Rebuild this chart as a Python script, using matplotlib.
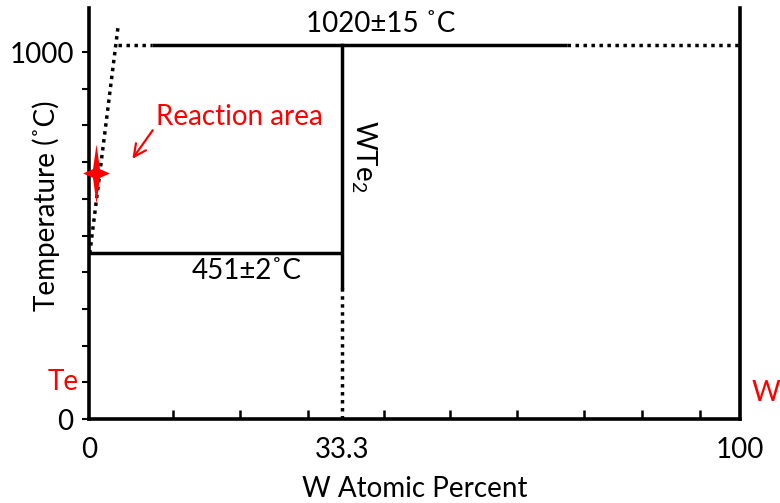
import numpy as np
import matplotlib.pyplot as plt
from matplotlib.path import Path

plt.rcParams['font.family'] = ['Lato', 'DejaVu Sans']
plt.rcParams['mathtext.fontset'] = 'custom'
plt.rcParams['mathtext.rm'] = 'Lato'
plt.rcParams['mathtext.it'] = 'Lato:italic'

# W-Te phase diagram (schematic), composition in W at.% and temperature in °C
x_wte2 = 33.3
t_eutectic = 451
t_peritectic = 1020
liquidus_x = [0.1, 3.8]
liquidus_t = [451, 1065]
upper_dotted_left = [3.8, 8.3]
upper_solid = [8.3, 71.0]
upper_dotted_right = [71.0, 100]
wte2_solid_t = [360, 1020]
wte2_dotted_t = [0, 360]
reaction_x, reaction_t = 0.9, 670
arrow_tip = (5.5, 703)
arrow_tail = (8.6, 793)
label_reaction = (8.8, 801)

x_ticks = [0, 33.3, 100]
x_ticklabels = ['0', '33.3', '100']
x_minor = [11.1, 19.9, 28.8, 40.3, 51.4, 62.6, 73.9, 83.6, 93.3]
y_ticks = list(range(0, 1001, 100))
y_ticklabels = ['0'] + [''] * 9 + ['1000']

# composition axis is stretched on the Te-rich side
knots_x = [0, 33.3, 100]
knots_s = [0, 253, 651]


def fwd(x):
    return np.interp(x, knots_x, knots_s)


def inv(s):
    return np.interp(s, knots_s, knots_x)


fs = 20
fig = plt.figure(figsize=(7.8, 5.03), dpi=100)
ax = fig.add_axes([89 / 780, 84 / 503, 651 / 780, 411 / 503])
ax.set_xscale('function', functions=(fwd, inv))
ax.set_xlim(0, 100)
ax.set_ylim(0, 1120)

lw = 2.5
dots = (0, (1, 1.3))
k = 'black'
ax.plot(liquidus_x, liquidus_t, color=k, lw=lw, linestyle=dots, dash_capstyle='butt')
ax.plot(upper_dotted_left, [t_peritectic] * 2, color=k, lw=lw, linestyle=dots, dash_capstyle='butt')
ax.plot(upper_solid, [t_peritectic] * 2, color=k, lw=lw, solid_capstyle='butt')
ax.plot(upper_dotted_right, [t_peritectic] * 2, color=k, lw=lw, linestyle=dots, dash_capstyle='butt')
ax.plot([0, x_wte2], [t_eutectic] * 2, color=k, lw=lw, solid_capstyle='butt')
ax.plot([x_wte2] * 2, wte2_solid_t, color=k, lw=lw, solid_capstyle='projecting')
ax.plot([x_wte2] * 2, wte2_dotted_t, color=k, lw=lw, linestyle=dots, dash_capstyle='butt')

# reaction point: elongated four-pointed star
star = Path([(0, 1), (0.12, 0.15), (0.46, 0), (0.12, -0.15), (0, -1.05),
             (-0.12, -0.15), (-0.46, 0), (-0.12, 0.15), (0, 1)], closed=True)
ax.plot([reaction_x], [reaction_t], marker=star, ms=44, color='red', mew=0,
        linestyle='none', clip_on=False, zorder=5)
ax.annotate('', xy=arrow_tip, xytext=arrow_tail,
            arrowprops=dict(arrowstyle='->', color='red', lw=1.6, mutation_scale=22))
ax.text(label_reaction[0], label_reaction[1], 'Reaction area', color='red',
        fontsize=fs, ha='left', va='baseline')

ax.text(39.7, 1042, '1020±15 ˚C', fontsize=fs, ha='center', va='bottom')
ax.text(20.7, 440, '451±2˚C', fontsize=fs, ha='center', va='top')
ax.text(37.0, 717, 'WTe$_2$', fontsize=fs, rotation=270, ha='center', va='center')

# spines and ticks
for side in ['left', 'bottom', 'right']:
    ax.spines[side].set_linewidth(2.6)
ax.spines['top'].set_visible(False)

ax.set_yticks(y_ticks)
ax.set_yticklabels(y_ticklabels)
ax.tick_params(axis='y', direction='out', length=5, width=1.5, labelsize=fs, pad=6)
ax.text(-0.015, 100, 'Te', color='red', fontsize=fs, ha='right', va='center',
        transform=ax.get_yaxis_transform())

ax.set_xticks(x_ticks)
ax.set_xticklabels(x_ticklabels)
ax.set_xticks(x_minor, minor=True)
ax.tick_params(axis='x', which='major', length=0, labelsize=fs, pad=13)
ax.tick_params(axis='x', which='minor', direction='in', length=6.5, width=1.8)

ax.text(1.04, 71, 'W', color='red', fontsize=fs, ha='center', va='center',
        transform=ax.get_yaxis_transform())

ax.set_xlabel('W Atomic Percent', fontsize=fs, labelpad=9)
ax.set_ylabel('Temperature (˚C)', fontsize=fs)
ax.yaxis.set_label_coords(-0.066, 0.52)
ax.yaxis.label.set_va('center')

fig.savefig('out.png', dpi=100)
